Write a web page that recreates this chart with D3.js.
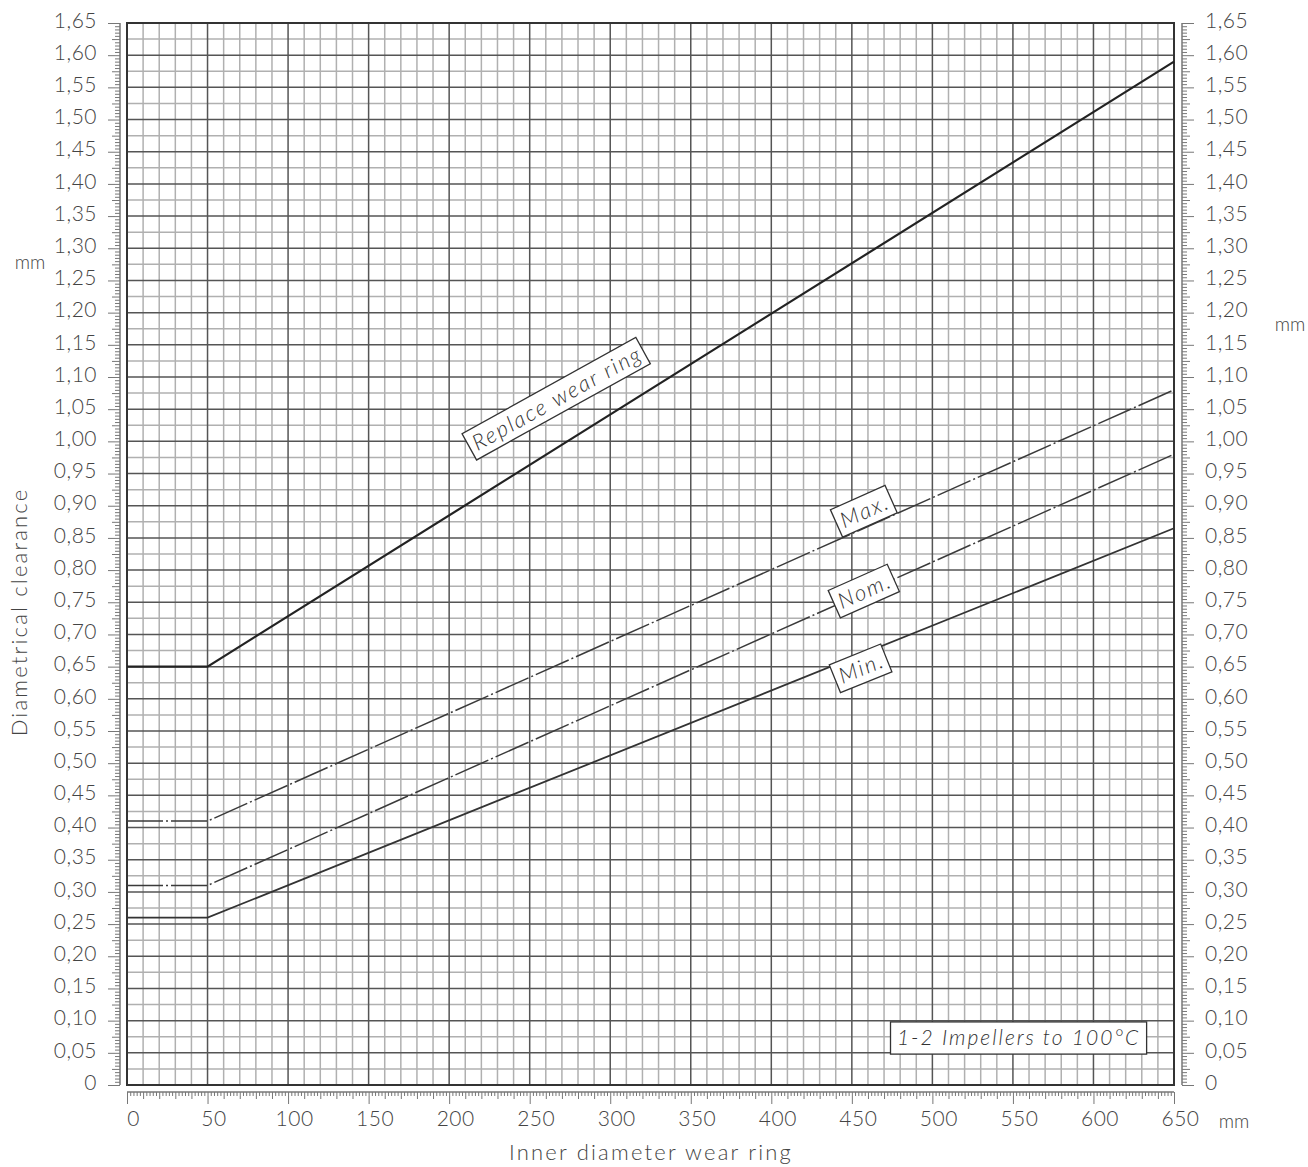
<!DOCTYPE html>
<html>
<head>
<meta charset="utf-8">
<script src="https://cdn.jsdelivr.net/npm/d3@7"></script>
<style>
  html, body { margin: 0; padding: 0; background: #fff; }
  svg { display: block; }
  text { font-family: Lato, "DejaVu Sans", sans-serif; }
</style>
</head>
<body>
<svg id="chart" width="1308" height="1167"></svg>
<script>
// ---- data ----
const diameters   = [0, 50, 650];            // mm, inner diameter wear ring
const replaceWear = [0.65, 0.65, 1.59];
const maxClear    = [0.41, 0.41, 1.08];
const nomClear    = [0.31, 0.31, 0.98];
const minClear    = [0.26, 0.26, 0.865];

const xTickValues = [0, 50, 100, 150, 200, 250, 300, 350, 400, 450, 500, 550, 600, 650];
const yTickValues = d3.range(0, 34).map(i => +(i * 0.05).toFixed(2));

// label annotations: text, x (mm), y (mm clearance), angle
const seriesLabels = [
  { text: "Replace wear ring", x: 267, y: 1.067, angle: -29 },
  { text: "Max.", x: 458, y: 0.892, angle: -24 },
  { text: "Nom.", x: 458, y: 0.768, angle: -24 },
  { text: "Min.", x: 456, y: 0.648, angle: -22 }
];
const noteText = "1-2 Impellers to 100°C";
const noteBox = { x0: 474, x1: 633, y0: 0.048, y1: 0.098 };

// ---- layout ----
const svg = d3.select("#chart");
const x = d3.scaleLinear().domain([0, 650]).range([127, 1174]);
const y = d3.scaleLinear().domain([0, 1.65]).range([1085, 23]);
const fmt = v => v === 0 ? "0" : d3.format(".2f")(v).replace(".", ",");

// grid
const g = svg.append("g");
const xMinor = d3.range(0, 651, 10).filter(v => v % 50 !== 0);
const xMajor = d3.range(0, 651, 50);
const yMinor = d3.range(0, 67).map(i => +(i * 0.025).toFixed(3)).filter((v, i) => i % 2 === 1);
const yMajor = yTickValues;

g.selectAll(".xminor").data(xMinor).join("line")
  .attr("x1", d => x(d)).attr("x2", d => x(d)).attr("y1", y(0)).attr("y2", y(1.65))
  .attr("stroke", "#b0b0b0").attr("stroke-width", 1.5);
g.selectAll(".yminor").data(yMinor).join("line")
  .attr("y1", d => y(d)).attr("y2", d => y(d)).attr("x1", x(0)).attr("x2", x(650))
  .attr("stroke", "#b0b0b0").attr("stroke-width", 1.5);
g.selectAll(".xmajor").data(xMajor).join("line")
  .attr("x1", d => x(d)).attr("x2", d => x(d)).attr("y1", y(0)).attr("y2", y(1.65))
  .attr("stroke", "#555").attr("stroke-width", 1.5);
g.selectAll(".ymajor").data(yMajor).join("line")
  .attr("y1", d => y(d)).attr("y2", d => y(d)).attr("x1", x(0)).attr("x2", x(650))
  .attr("stroke", "#555").attr("stroke-width", 1.5);
g.append("rect").attr("x", x(0)).attr("y", y(1.65))
  .attr("width", x(650) - x(0)).attr("height", y(0) - y(1.65))
  .attr("fill", "none").attr("stroke", "#333").attr("stroke-width", 2);

// rulers
function ruler(axisFn, scale, values, size, transform) {
  const a = svg.append("g").attr("transform", transform)
    .call(axisFn(scale).tickValues(values).tickSize(size).tickFormat(""));
  a.select(".domain").remove();
  a.selectAll("line").attr("stroke", "#777").attr("stroke-width", 1);
  return a;
}
const yFine = d3.range(0, 331).map(i => +(i * 0.005).toFixed(3));
const yFineMinor = yFine.filter((v, i) => i % 5 !== 0);
const yMid = yFine.filter((v, i) => i % 5 === 0 && i % 10 !== 0);
// left ruler
ruler(d3.axisLeft, y, yFineMinor, 5, "translate(120,0)");
ruler(d3.axisLeft, y, yMid, 8, "translate(120,0)");
ruler(d3.axisLeft, y, yTickValues, 12, "translate(120,0)");
svg.append("line").attr("x1", 120).attr("x2", 120).attr("y1", y(0)).attr("y2", y(1.65)).attr("stroke", "#777").attr("stroke-width", 1.5);
// right ruler
ruler(d3.axisRight, y, yFineMinor, 5, "translate(1182,0)");
ruler(d3.axisRight, y, yMid, 8, "translate(1182,0)");
ruler(d3.axisRight, y, yTickValues, 12, "translate(1182,0)");
svg.append("line").attr("x1", 1182).attr("x2", 1182).attr("y1", y(0)).attr("y2", y(1.65)).attr("stroke", "#777").attr("stroke-width", 1.5);
// bottom ruler
const xFine = d3.range(0, 651, 2);
ruler(d3.axisBottom, x, xFine.filter(v => v % 10 !== 0), 4, "translate(0,1092)");
ruler(d3.axisBottom, x, d3.range(0, 651, 10).filter(v => v % 50 !== 0), 7, "translate(0,1092)");
ruler(d3.axisBottom, x, xTickValues, 12, "translate(0,1092)");
svg.append("line").attr("x1", x(0)).attr("x2", x(650)).attr("y1", 1092).attr("y2", 1092).attr("stroke", "#777").attr("stroke-width", 1.5);

// tick labels
const labStyle = sel => sel.attr("font-size", 21).attr("font-weight", 300).attr("fill", "#444")
  .attr("font-family", "Lato").attr("letter-spacing", 0.5);
const la = svg.append("g").attr("transform", "translate(100,0)")
  .call(d3.axisLeft(y).tickValues(yTickValues).tickSize(0).tickPadding(3).tickFormat(fmt));
la.select(".domain").remove();
la.selectAll("text").call(labStyle).attr("dy", "0.2em");
const ra = svg.append("g").attr("transform", "translate(1202,0)")
  .call(d3.axisRight(y).tickValues(yTickValues).tickSize(0).tickPadding(3).tickFormat(fmt));
ra.select(".domain").remove();
ra.selectAll("text").call(labStyle).attr("dy", "0.2em");
const ba = svg.append("g").attr("transform", "translate(6,1111)")
  .call(d3.axisBottom(x).tickValues(xTickValues).tickSize(0).tickPadding(0).tickFormat(d3.format("d")));
ba.select(".domain").remove();
ba.selectAll("text").call(labStyle);

// axis titles and units
const titleStyle = sel => sel.attr("font-size", 22).attr("font-weight", 300).attr("fill", "#444");
svg.append("text").attr("x", 651).attr("y", 1160).attr("text-anchor", "middle")
  .text("Inner diameter wear ring").call(titleStyle).attr("letter-spacing", 2.2);
svg.append("text").attr("transform", "translate(27,612) rotate(-90)").attr("text-anchor", "middle")
  .text("Diametrical clearance").call(titleStyle).attr("letter-spacing", 2.2);
svg.append("text").attr("x", 30).attr("y", 269).attr("text-anchor", "middle").text("mm").call(titleStyle).attr("font-size", 19);
svg.append("text").attr("x", 1290).attr("y", 331).attr("text-anchor", "middle").text("mm").call(titleStyle).attr("font-size", 19);
svg.append("text").attr("x", 1234).attr("y", 1128).attr("text-anchor", "middle").text("mm").call(titleStyle).attr("font-size", 19);

// series lines
const series = [
  { vals: replaceWear, width: 2.2, dash: null, color: "#222" },
  { vals: maxClear, width: 1.5, dash: "36,3,2,3", color: "#3a3a3a" },
  { vals: nomClear, width: 1.5, dash: "36,3,2,3", color: "#3a3a3a" },
  { vals: minClear, width: 1.8, dash: null, color: "#333" }
];
const line = d3.line().x(d => x(d[0])).y(d => y(d[1]));
series.forEach(s => {
  svg.append("path").datum(diameters.map((d, i) => [d, s.vals[i]]))
    .attr("d", line).attr("fill", "none").attr("stroke", s.color)
    .attr("stroke-width", s.width).attr("stroke-dasharray", s.dash);
});

// labels in boxes
seriesLabels.forEach(l => {
  const gg = svg.append("g").attr("transform", `translate(${x(l.x)},${y(l.y)}) rotate(${l.angle})`);
  const t = gg.append("text").attr("text-anchor", "middle").attr("dy", "0.35em")
    .attr("font-size", 22).attr("font-style", "italic").attr("font-weight", 300)
    .attr("letter-spacing", 2).attr("fill", "#333").text(l.text);
  const bb = t.node().getBBox();
  gg.insert("rect", "text").attr("x", bb.x - 5).attr("y", -15)
    .attr("width", bb.width + 8).attr("height", 30)
    .attr("fill", "#fff").attr("stroke", "#333").attr("stroke-width", 1.3);
});

// note box
svg.append("rect").attr("x", x(noteBox.x0)).attr("y", y(noteBox.y1))
  .attr("width", x(noteBox.x1) - x(noteBox.x0)).attr("height", y(noteBox.y0) - y(noteBox.y1))
  .attr("fill", "#fff").attr("stroke", "#333").attr("stroke-width", 1.3);
svg.append("text").attr("x", (x(noteBox.x0) + x(noteBox.x1)) / 2).attr("y", (y(noteBox.y0) + y(noteBox.y1)) / 2)
  .attr("dy", "0.35em").attr("text-anchor", "middle")
  .attr("font-size", 21).attr("font-style", "italic").attr("font-weight", 300)
  .attr("letter-spacing", 2).attr("fill", "#333").text(noteText);
</script>
</body>
</html>
